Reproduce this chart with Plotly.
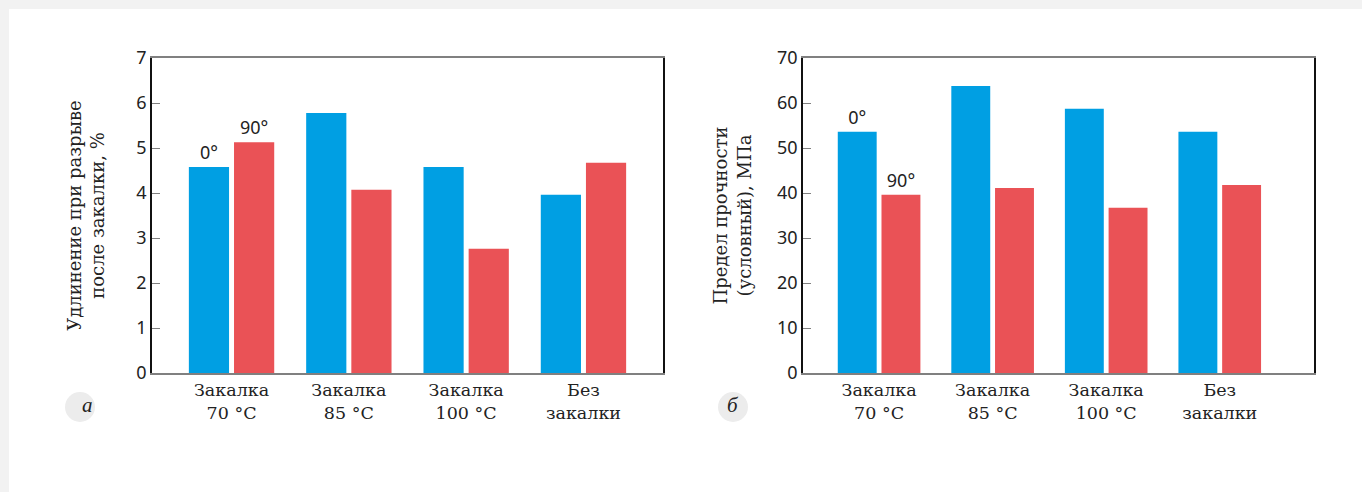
import plotly.graph_objects as go

# Categories (quenching regimes)
categories = ["Закалка<br>70 °C", "Закалка<br>85 °C", "Закалка<br>100 °C", "Без<br>закалки"]

# Elongation at break after quenching, %
elong_0 = [4.58, 5.78, 4.58, 3.96]
elong_90 = [5.13, 4.07, 2.76, 4.67]

# Conventional tensile strength, MPa
strength_0 = [53.6, 63.8, 58.7, 53.6]
strength_90 = [39.6, 41.1, 36.7, 41.8]

# Orientation labels shown over the first group
label_0 = ["0°", "", "", ""]
label_90 = ["90°", "", "", ""]

BLUE = "#009fe3"
RED = "#ea5256"
TXT = "#222222"
SANS = "Noto Sans"
SERIF = "DejaVu Serif"

W, H = 1362, 492


def px_x(p):
    return p / W


def px_y(p):
    return (H - p) / H


fig = go.Figure()

for xa, ya, s0, s90 in [("x", "y", elong_0, elong_90), ("x2", "y2", strength_0, strength_90)]:
    fig.add_trace(go.Bar(x=categories, y=s0, marker_color=BLUE, text=label_0,
                         textposition="outside", textfont=dict(family=SANS, size=18, color=TXT),
                         cliponaxis=False, xaxis=xa, yaxis=ya, showlegend=False,
                         marker_line_width=0, offsetgroup="a"))
    fig.add_trace(go.Bar(x=categories, y=s90, marker_color=RED, text=label_90,
                         textposition="outside", textfont=dict(family=SANS, size=18, color=TXT),
                         cliponaxis=False, xaxis=xa, yaxis=ya, showlegend=False,
                         marker_line_width=0, offsetgroup="b"))

y_dom = [px_y(373), px_y(58)]

xcommon = dict(showline=True, linecolor="#808080", linewidth=1.5, mirror=True,
               ticks="", showgrid=False, zeroline=False, automargin=False,
               tickfont=dict(family=SERIF, size=17.5, color=TXT))
ycommon = dict(showline=True, linecolor="#111111", linewidth=1.5, mirror=True,
               ticks="inside", ticklen=8, tickcolor="#808080", tickwidth=1,
               showgrid=False, zeroline=False, automargin=False,
               tickfont=dict(family=SANS, size=18, color=TXT))

fig.update_layout(
    width=W, height=H,
    margin=dict(l=0, r=0, t=0, b=0, pad=0, autoexpand=False),
    paper_bgcolor="#f2f2f2",
    plot_bgcolor="white",
    barmode="group",
    bargap=0.23,
    bargroupgap=0.11,
    xaxis=dict(domain=[px_x(152), px_x(663)], anchor="y",
               range=[-0.678, 3.678], **xcommon),
    yaxis=dict(domain=y_dom, anchor="x", range=[0, 7], dtick=1,
               title=dict(text="Удлинение при разрыве<br>после закалки, %",
                          font=dict(family=SERIF, size=18, color=TXT), standoff=27),
               **ycommon),
    xaxis2=dict(domain=[px_x(803), px_x(1314)], anchor="y2",
                range=[-0.67, 3.83], **xcommon),
    yaxis2=dict(domain=y_dom, anchor="x2", range=[0, 70], dtick=10,
                title=dict(text="Предел прочности<br>(условный), МПа",
                           font=dict(family=SERIF, size=18, color=TXT), standoff=21),
                **ycommon),
)

# White card behind everything
fig.add_shape(type="rect", xref="paper", yref="paper", x0=px_x(9), x1=1, y0=0, y1=px_y(9),
              fillcolor="white", line_width=0, layer="below")

# Panel letter badges
for cx, letter in [(80, "а"), (733, "б")]:
    fig.add_shape(type="circle", xref="paper", yref="paper",
                  x0=px_x(cx - 15), x1=px_x(cx + 15), y0=px_y(407 + 15), y1=px_y(407 - 15),
                  fillcolor="#ececec", line_width=0)
    fig.add_annotation(x=px_x(cx), y=px_y(407), xref="paper", yref="paper", text=f"<i>{letter}</i>",
                       showarrow=False, yanchor="middle", yshift=2,
                       font=dict(family="Liberation Serif", size=21, color=TXT))

fig.write_html("out.html")
